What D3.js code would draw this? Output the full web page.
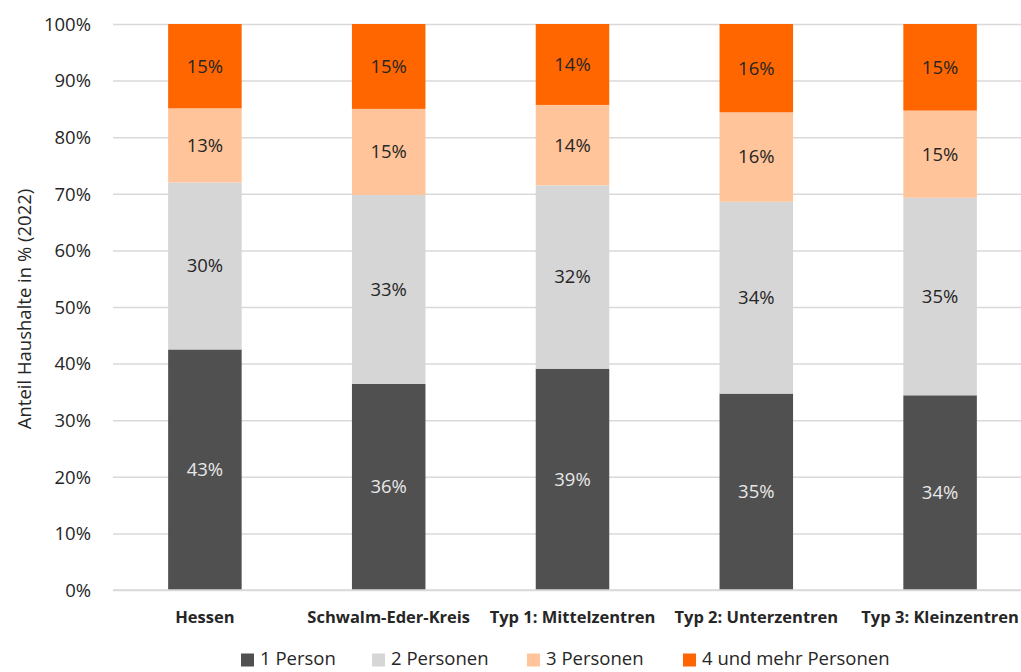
<!DOCTYPE html>
<html>
<head>
<meta charset="utf-8">
<script src="https://cdn.jsdelivr.net/npm/d3@7"></script>
<style>
  html, body { margin: 0; padding: 0; background: #fff; }
  svg { display: block; }
  text { font-family: "Open Sans", sans-serif; }
</style>
</head>
<body>
<svg id="chart" width="1021" height="672"></svg>
<script>
const categories = ["Hessen", "Schwalm-Eder-Kreis", "Typ 1: Mittelzentren", "Typ 2: Unterzentren", "Typ 3: Kleinzentren"];
const seriesNames = ["1 Person", "2 Personen", "3 Personen", "4 und mehr Personen"];
const person1 = [42.5, 36.4, 39.1, 34.7, 34.4];
const person2 = [29.5, 33.4, 32.4, 33.9, 34.9];
const person3 = [13.1, 15.2, 14.2, 15.8, 15.4];
const person4 = [14.9, 15.0, 14.3, 15.6, 15.3];
const yTicks = [0, 10, 20, 30, 40, 50, 60, 70, 80, 90, 100];
const colors = ["#505050", "#d6d6d6", "#ffc499", "#ff6600"];
const labelColors = ["#e8e8e8", "#262626", "#262626", "#262626"];

const seriesValues = [person1, person2, person3, person4];
const rows = categories.map((c, i) => {
  const r = { cat: c };
  seriesNames.forEach((s, j) => r[s] = seriesValues[j][i]);
  return r;
});

const svg = d3.select("#chart");
const margin = { left: 113, right: 1032, top: 24, bottom: 590 };

const x = d3.scaleBand().domain(categories).range([margin.left, margin.right])
  .paddingInner(0.6).paddingOuter(0.3);
const y = d3.scaleLinear().domain([0, 100]).range([margin.bottom, margin.top]);

// gridlines
const grid = svg.append("g")
  .attr("transform", `translate(${margin.left},0)`)
  .call(d3.axisLeft(y).tickValues(yTicks).tickSize(-(margin.right - margin.left)).tickFormat(""));
grid.select(".domain").remove();
grid.selectAll("line").attr("stroke", "#d9d9d9").attr("stroke-width", 1.5);

// y tick labels
const yAxis = svg.append("g")
  .attr("transform", `translate(91,0)`)
  .call(d3.axisLeft(y).tickValues(yTicks).tickSize(0).tickFormat(d => d + "%"));
yAxis.select(".domain").remove();
yAxis.selectAll("text").attr("font-size", 18.5).attr("fill", "#262626")
  .attr("font-family", "'Open Sans', sans-serif").attr("dy", "0.34em").attr("x", 0);

// axis title
svg.append("text")
  .attr("transform", `translate(31,${(margin.top + margin.bottom) / 2 + 2}) rotate(-90)`)
  .attr("text-anchor", "middle")
  .attr("font-size", 18.5).attr("fill", "#262626")
  .text("Anteil Haushalte in % (2022)");

const stack = d3.stack().keys(seriesNames);
const stacked = stack(rows);

const layers = svg.append("g").selectAll("g").data(stacked).join("g")
  .attr("fill", (d, i) => colors[i]);

layers.selectAll("rect").data(d => d).join("rect")
  .attr("x", d => x(d.data.cat))
  .attr("width", x.bandwidth())
  .attr("y", d => y(d[1]))
  .attr("height", d => y(d[0]) - y(d[1]));

// value labels
stacked.forEach((layer, i) => {
  svg.append("g").selectAll("text").data(layer).join("text")
    .attr("x", d => x(d.data.cat) + x.bandwidth() / 2)
    .attr("y", d => y((d[0] + d[1]) / 2))
    .attr("dy", "0.35em")
    .attr("text-anchor", "middle")
    .attr("font-size", 18.5)
    .attr("fill", labelColors[i])
    .text(d => Math.round(d[1] - d[0]) + "%");
});

// x category labels
const xAxis = svg.append("g")
  .attr("transform", `translate(0,${margin.bottom})`)
  .call(d3.axisBottom(x).tickSize(0).tickPadding(21));
xAxis.select(".domain").remove();
xAxis.selectAll("text").attr("font-size", 16.5).attr("font-weight", "bold").attr("fill", "#262626")
  .attr("font-family", "'Open Sans', sans-serif");

// bottom axis line
svg.append("line")
  .attr("x1", margin.left).attr("x2", margin.right)
  .attr("y1", margin.bottom).attr("y2", margin.bottom)
  .attr("stroke", "#d9d9d9").attr("stroke-width", 1.5);

// legend
const legendX = [241, 372, 527, 683];
const legend = svg.append("g").selectAll("g").data(seriesNames).join("g")
  .attr("transform", (d, i) => `translate(${legendX[i]},659)`);
legend.append("rect").attr("x", 0).attr("y", -5.5).attr("width", 13).attr("height", 13)
  .attr("fill", (d, i) => colors[i]);
legend.append("text").attr("x", 19).attr("dy", "0.35em")
  .attr("font-size", 18.5).attr("fill", "#262626").text(d => d);
</script>
</body>
</html>
